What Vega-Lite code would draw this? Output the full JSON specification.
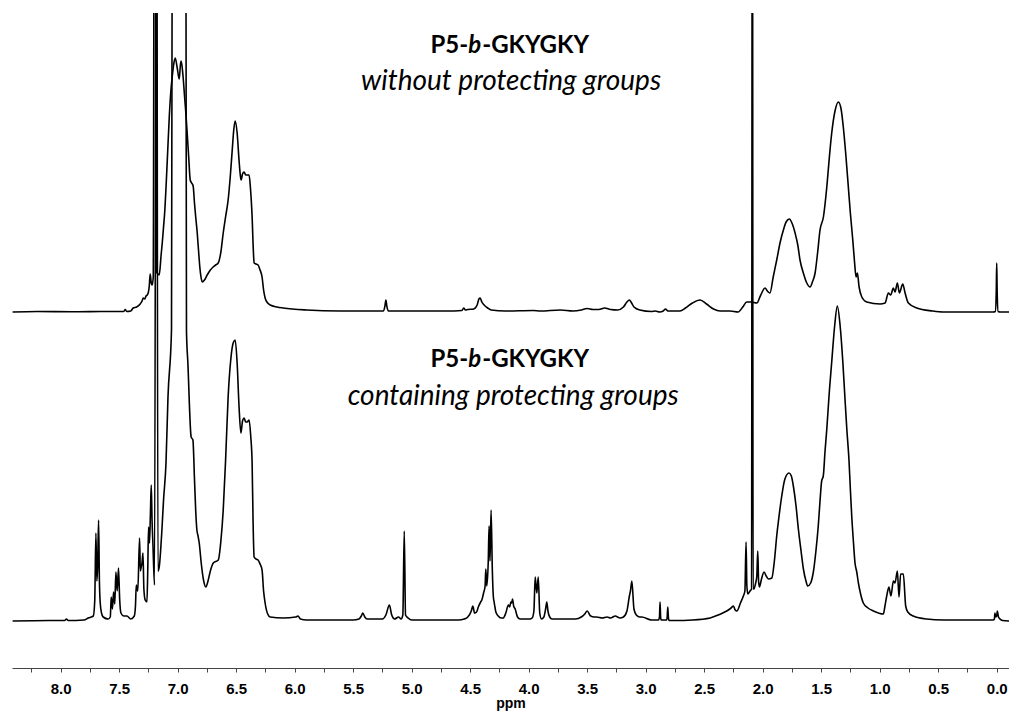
{
  "$schema": "https://vega.github.io/schema/vega-lite/v6.json",
  "width": 997,
  "height": 655,
  "autosize": {"type": "none"},
  "padding": {"left": 12, "top": 13, "right": 0, "bottom": 43},
  "background": "white",
  "config": {"view": {"stroke": null}},
  "datasets": {
    "upper": [
      {"ppm":8.41,"intensity":0},{"ppm":8.2,"intensity":0.5},{"ppm":7.9,"intensity":0.3},{"ppm":7.6,"intensity":0.5},{"ppm":7.46,"intensity":0.5},{"ppm":7.447,"intensity":2.5},{"ppm":7.435,"intensity":0.5},{"ppm":7.4,"intensity":1},{"ppm":7.379,"intensity":4},{"ppm":7.35,"intensity":5},{"ppm":7.32,"intensity":8},{"ppm":7.3,"intensity":12},{"ppm":7.294,"intensity":14},{"ppm":7.28,"intensity":13},{"ppm":7.27,"intensity":16},{"ppm":7.26,"intensity":17},{"ppm":7.251,"intensity":19},{"ppm":7.242,"intensity":26},{"ppm":7.234,"intensity":38},{"ppm":7.225,"intensity":29},{"ppm":7.217,"intensity":27},{"ppm":7.208,"intensity":35},{"ppm":7.193,"intensity":1000},{"ppm":7.18,"intensity":40},{"ppm":7.168,"intensity":38},{"ppm":7.157,"intensity":37},{"ppm":7.14,"intensity":58},{"ppm":7.131,"intensity":69},{"ppm":7.12,"intensity":85},{"ppm":7.11,"intensity":100},{"ppm":7.097,"intensity":129},{"ppm":7.084,"intensity":162},{"ppm":7.071,"intensity":195},{"ppm":7.058,"intensity":220},{"ppm":7.046,"intensity":235},{"ppm":7.033,"intensity":248},{"ppm":7.02,"intensity":254},{"ppm":7.003,"intensity":244},{"ppm":6.986,"intensity":233},{"ppm":6.975,"intensity":248},{"ppm":6.969,"intensity":251},{"ppm":6.955,"intensity":238},{"ppm":6.94,"intensity":215},{"ppm":6.93,"intensity":200},{"ppm":6.918,"intensity":179},{"ppm":6.905,"intensity":155},{"ppm":6.892,"intensity":132},{"ppm":6.88,"intensity":129},{"ppm":6.867,"intensity":126},{"ppm":6.855,"intensity":108},{"ppm":6.845,"intensity":95},{"ppm":6.832,"intensity":79},{"ppm":6.82,"intensity":60},{"ppm":6.81,"intensity":45},{"ppm":6.8,"intensity":35},{"ppm":6.789,"intensity":30},{"ppm":6.77,"intensity":32},{"ppm":6.747,"intensity":37},{"ppm":6.72,"intensity":42},{"ppm":6.696,"intensity":45},{"ppm":6.675,"intensity":47},{"ppm":6.653,"intensity":49},{"ppm":6.63,"intensity":60},{"ppm":6.61,"intensity":79},{"ppm":6.59,"intensity":95},{"ppm":6.568,"intensity":112},{"ppm":6.55,"intensity":135},{"ppm":6.533,"intensity":162},{"ppm":6.52,"intensity":182},{"ppm":6.508,"intensity":191},{"ppm":6.491,"intensity":179},{"ppm":6.475,"intensity":152},{"ppm":6.465,"intensity":138},{"ppm":6.457,"intensity":132},{"ppm":6.445,"intensity":138},{"ppm":6.431,"intensity":140},{"ppm":6.418,"intensity":137},{"ppm":6.406,"intensity":137},{"ppm":6.389,"intensity":137},{"ppm":6.378,"intensity":125},{"ppm":6.363,"intensity":95},{"ppm":6.352,"intensity":60},{"ppm":6.346,"intensity":49},{"ppm":6.33,"intensity":48},{"ppm":6.312,"intensity":47},{"ppm":6.295,"intensity":42},{"ppm":6.278,"intensity":35},{"ppm":6.265,"intensity":22},{"ppm":6.252,"intensity":14},{"ppm":6.23,"intensity":9},{"ppm":6.209,"intensity":7},{"ppm":6.15,"intensity":5},{"ppm":6.098,"intensity":4},{"ppm":5.9,"intensity":2},{"ppm":5.611,"intensity":1},{"ppm":5.3,"intensity":1},{"ppm":5.24,"intensity":1},{"ppm":5.228,"intensity":6},{"ppm":5.22,"intensity":12},{"ppm":5.212,"intensity":6},{"ppm":5.2,"intensity":1},{"ppm":5.0,"intensity":1},{"ppm":4.7,"intensity":1},{"ppm":4.57,"intensity":1.5},{"ppm":4.555,"intensity":4},{"ppm":4.54,"intensity":2},{"ppm":4.52,"intensity":2.5},{"ppm":4.47,"intensity":3},{"ppm":4.44,"intensity":7},{"ppm":4.425,"intensity":13},{"ppm":4.414,"intensity":14},{"ppm":4.4,"intensity":10},{"ppm":4.38,"intensity":7},{"ppm":4.35,"intensity":4},{"ppm":4.32,"intensity":2},{"ppm":4.2,"intensity":1},{"ppm":3.96,"intensity":1.5},{"ppm":3.9,"intensity":1},{"ppm":3.73,"intensity":2},{"ppm":3.62,"intensity":1},{"ppm":3.55,"intensity":2},{"ppm":3.5,"intensity":3.5},{"ppm":3.45,"intensity":2.5},{"ppm":3.4,"intensity":2.5},{"ppm":3.35,"intensity":4},{"ppm":3.3,"intensity":2.5},{"ppm":3.24,"intensity":2},{"ppm":3.19,"intensity":5},{"ppm":3.16,"intensity":10},{"ppm":3.14,"intensity":12},{"ppm":3.12,"intensity":9},{"ppm":3.1,"intensity":5},{"ppm":3.05,"intensity":2},{"ppm":2.95,"intensity":0.5},{"ppm":2.92,"intensity":1},{"ppm":2.88,"intensity":0},{"ppm":2.85,"intensity":1},{"ppm":2.83,"intensity":3},{"ppm":2.81,"intensity":1},{"ppm":2.75,"intensity":1},{"ppm":2.706,"intensity":1},{"ppm":2.66,"intensity":4},{"ppm":2.6,"intensity":9},{"ppm":2.535,"intensity":12},{"ppm":2.48,"intensity":8},{"ppm":2.42,"intensity":3},{"ppm":2.364,"intensity":1},{"ppm":2.3,"intensity":1},{"ppm":2.279,"intensity":1},{"ppm":2.21,"intensity":0},{"ppm":2.17,"intensity":5},{"ppm":2.136,"intensity":10},{"ppm":2.1,"intensity":10},{"ppm":2.05,"intensity":9},{"ppm":2.02,"intensity":16},{"ppm":1.98,"intensity":24},{"ppm":1.96,"intensity":21},{"ppm":1.938,"intensity":19},{"ppm":1.91,"intensity":35},{"ppm":1.88,"intensity":52},{"ppm":1.85,"intensity":70},{"ppm":1.823,"intensity":82},{"ppm":1.8,"intensity":90},{"ppm":1.772,"intensity":93},{"ppm":1.75,"intensity":89},{"ppm":1.723,"intensity":79},{"ppm":1.7,"intensity":67},{"ppm":1.681,"intensity":52},{"ppm":1.65,"intensity":38},{"ppm":1.623,"intensity":29},{"ppm":1.595,"intensity":25},{"ppm":1.575,"intensity":30},{"ppm":1.552,"intensity":39},{"ppm":1.53,"intensity":60},{"ppm":1.51,"intensity":82},{"ppm":1.481,"intensity":95},{"ppm":1.452,"intensity":125},{"ppm":1.43,"intensity":155},{"ppm":1.41,"intensity":179},{"ppm":1.38,"intensity":202},{"ppm":1.353,"intensity":210},{"ppm":1.33,"intensity":203},{"ppm":1.311,"intensity":185},{"ppm":1.29,"intensity":158},{"ppm":1.268,"intensity":125},{"ppm":1.25,"intensity":98},{"ppm":1.23,"intensity":72},{"ppm":1.215,"intensity":50},{"ppm":1.202,"intensity":35},{"ppm":1.191,"intensity":39},{"ppm":1.176,"intensity":25},{"ppm":1.153,"intensity":15},{"ppm":1.111,"intensity":10},{"ppm":0.997,"intensity":8},{"ppm":0.954,"intensity":9},{"ppm":0.926,"intensity":19},{"ppm":0.906,"intensity":17},{"ppm":0.883,"intensity":24},{"ppm":0.869,"intensity":20},{"ppm":0.849,"intensity":29},{"ppm":0.832,"intensity":19},{"ppm":0.803,"intensity":28},{"ppm":0.783,"intensity":19},{"ppm":0.755,"intensity":9},{"ppm":0.683,"intensity":4},{"ppm":0.55,"intensity":1},{"ppm":0.456,"intensity":0},{"ppm":0.2,"intensity":0},{"ppm":0.029,"intensity":0},{"ppm":0.012,"intensity":0.5},{"ppm":0.004,"intensity":20},{"ppm":0.0,"intensity":49},{"ppm":-0.004,"intensity":20},{"ppm":-0.012,"intensity":0.5},{"ppm":-0.03,"intensity":0},{"ppm":-0.105,"intensity":0}
    ],
    "lower": [
      {"ppm":8.41,"intensity":0},{"ppm":8.1,"intensity":0.5},{"ppm":7.965,"intensity":0.5},{"ppm":7.95,"intensity":2},{"ppm":7.935,"intensity":0.5},{"ppm":7.8,"intensity":1},{"ppm":7.763,"intensity":3},{"ppm":7.72,"intensity":5},{"ppm":7.708,"intensity":20},{"ppm":7.698,"intensity":88},{"ppm":7.69,"intensity":40},{"ppm":7.683,"intensity":55},{"ppm":7.675,"intensity":101},{"ppm":7.668,"intensity":40},{"ppm":7.661,"intensity":18},{"ppm":7.65,"intensity":8},{"ppm":7.636,"intensity":4},{"ppm":7.593,"intensity":2},{"ppm":7.575,"intensity":4},{"ppm":7.567,"intensity":24},{"ppm":7.557,"intensity":12},{"ppm":7.547,"intensity":29},{"ppm":7.537,"intensity":17},{"ppm":7.527,"intensity":49},{"ppm":7.516,"intensity":30},{"ppm":7.505,"intensity":53},{"ppm":7.495,"intensity":22},{"ppm":7.484,"intensity":8},{"ppm":7.46,"intensity":5},{"ppm":7.433,"intensity":5},{"ppm":7.4,"intensity":2},{"ppm":7.37,"intensity":5},{"ppm":7.36,"intensity":15},{"ppm":7.353,"intensity":36},{"ppm":7.34,"intensity":30},{"ppm":7.325,"intensity":83},{"ppm":7.318,"intensity":50},{"ppm":7.311,"intensity":54},{"ppm":7.304,"intensity":58},{"ppm":7.296,"intensity":68},{"ppm":7.288,"intensity":32},{"ppm":7.277,"intensity":21},{"ppm":7.262,"intensity":19},{"ppm":7.255,"intensity":50},{"ppm":7.248,"intensity":94},{"ppm":7.24,"intensity":78},{"ppm":7.232,"intensity":108},{"ppm":7.225,"intensity":136},{"ppm":7.218,"intensity":100},{"ppm":7.211,"intensity":78},{"ppm":7.197,"intensity":36},{"ppm":7.18,"intensity":1000},{"ppm":7.168,"intensity":50},{"ppm":7.157,"intensity":54},{"ppm":7.145,"intensity":70},{"ppm":7.134,"intensity":91},{"ppm":7.12,"intensity":121},{"ppm":7.099,"intensity":158},{"ppm":7.082,"intensity":224},{"ppm":7.052,"intensity":291},{"ppm":7.047,"intensity":620},{"ppm":6.99,"intensity":1200},{"ppm":6.928,"intensity":620},{"ppm":6.924,"intensity":290},{"ppm":6.912,"intensity":258},{"ppm":6.884,"intensity":184},{"ppm":6.869,"intensity":181},{"ppm":6.855,"intensity":140},{"ppm":6.845,"intensity":110},{"ppm":6.835,"intensity":91},{"ppm":6.825,"intensity":85},{"ppm":6.815,"intensity":78},{"ppm":6.798,"intensity":58},{"ppm":6.78,"intensity":42},{"ppm":6.758,"intensity":34},{"ppm":6.74,"intensity":40},{"ppm":6.72,"intensity":50},{"ppm":6.695,"intensity":58},{"ppm":6.652,"intensity":61},{"ppm":6.63,"intensity":80},{"ppm":6.61,"intensity":111},{"ppm":6.59,"intensity":160},{"ppm":6.568,"intensity":224},{"ppm":6.545,"intensity":262},{"ppm":6.525,"intensity":278},{"ppm":6.508,"intensity":281},{"ppm":6.491,"intensity":258},{"ppm":6.475,"intensity":215},{"ppm":6.459,"intensity":188},{"ppm":6.445,"intensity":200},{"ppm":6.431,"intensity":203},{"ppm":6.418,"intensity":199},{"ppm":6.406,"intensity":199},{"ppm":6.389,"intensity":201},{"ppm":6.375,"intensity":185},{"ppm":6.363,"intensity":158},{"ppm":6.355,"intensity":100},{"ppm":6.346,"intensity":64},{"ppm":6.33,"intensity":62},{"ppm":6.312,"intensity":61},{"ppm":6.295,"intensity":57},{"ppm":6.278,"intensity":51},{"ppm":6.265,"intensity":30},{"ppm":6.252,"intensity":18},{"ppm":6.23,"intensity":7},{"ppm":6.209,"intensity":4},{"ppm":6.098,"intensity":3},{"ppm":5.99,"intensity":4},{"ppm":5.97,"intensity":5},{"ppm":5.95,"intensity":2},{"ppm":5.9,"intensity":1},{"ppm":5.5,"intensity":1},{"ppm":5.45,"intensity":2},{"ppm":5.43,"intensity":5},{"ppm":5.417,"intensity":8},{"ppm":5.4,"intensity":4},{"ppm":5.38,"intensity":2},{"ppm":5.25,"intensity":2},{"ppm":5.22,"intensity":6},{"ppm":5.19,"intensity":16},{"ppm":5.17,"intensity":6},{"ppm":5.145,"intensity":2},{"ppm":5.112,"intensity":4},{"ppm":5.09,"intensity":2},{"ppm":5.075,"intensity":6},{"ppm":5.063,"intensity":90},{"ppm":5.052,"intensity":6},{"ppm":5.03,"intensity":3},{"ppm":5.0,"intensity":1},{"ppm":4.6,"intensity":1},{"ppm":4.55,"intensity":2},{"ppm":4.52,"intensity":4},{"ppm":4.49,"intensity":10},{"ppm":4.477,"intensity":15},{"ppm":4.462,"intensity":8},{"ppm":4.445,"intensity":9},{"ppm":4.43,"intensity":14},{"ppm":4.41,"intensity":19},{"ppm":4.4,"intensity":21},{"ppm":4.385,"intensity":28},{"ppm":4.372,"intensity":35},{"ppm":4.366,"intensity":52},{"ppm":4.358,"intensity":35},{"ppm":4.345,"intensity":60},{"ppm":4.338,"intensity":95},{"ppm":4.33,"intensity":60},{"ppm":4.321,"intensity":111},{"ppm":4.31,"intensity":50},{"ppm":4.302,"intensity":25},{"ppm":4.295,"intensity":19},{"ppm":4.288,"intensity":14},{"ppm":4.28,"intensity":9},{"ppm":4.26,"intensity":5},{"ppm":4.235,"intensity":3},{"ppm":4.218,"intensity":3},{"ppm":4.195,"intensity":8},{"ppm":4.173,"intensity":16},{"ppm":4.162,"intensity":14},{"ppm":4.152,"intensity":19},{"ppm":4.145,"intensity":18},{"ppm":4.138,"intensity":22},{"ppm":4.128,"intensity":15},{"ppm":4.115,"intensity":12},{"ppm":4.095,"intensity":4},{"ppm":4.073,"intensity":2},{"ppm":3.99,"intensity":2},{"ppm":3.97,"intensity":3},{"ppm":3.955,"intensity":10},{"ppm":3.944,"intensity":44},{"ppm":3.93,"intensity":28},{"ppm":3.918,"intensity":44},{"ppm":3.905,"intensity":8},{"ppm":3.89,"intensity":2},{"ppm":3.87,"intensity":4},{"ppm":3.855,"intensity":12},{"ppm":3.845,"intensity":19},{"ppm":3.835,"intensity":10},{"ppm":3.82,"intensity":4},{"ppm":3.8,"intensity":2},{"ppm":3.7,"intensity":2},{"ppm":3.6,"intensity":2},{"ppm":3.55,"intensity":4},{"ppm":3.52,"intensity":7},{"ppm":3.5,"intensity":10},{"ppm":3.47,"intensity":5},{"ppm":3.44,"intensity":4},{"ppm":3.42,"intensity":4},{"ppm":3.37,"intensity":3},{"ppm":3.33,"intensity":4},{"ppm":3.3,"intensity":3},{"ppm":3.26,"intensity":5},{"ppm":3.22,"intensity":3},{"ppm":3.19,"intensity":4},{"ppm":3.16,"intensity":10},{"ppm":3.139,"intensity":25},{"ppm":3.13,"intensity":30},{"ppm":3.118,"intensity":40},{"ppm":3.1,"intensity":12},{"ppm":3.08,"intensity":6},{"ppm":3.05,"intensity":4},{"ppm":3.033,"intensity":4},{"ppm":2.95,"intensity":1},{"ppm":2.89,"intensity":1},{"ppm":2.882,"intensity":4},{"ppm":2.877,"intensity":19},{"ppm":2.872,"intensity":4},{"ppm":2.868,"intensity":1},{"ppm":2.82,"intensity":1},{"ppm":2.816,"intensity":4},{"ppm":2.811,"intensity":14},{"ppm":2.806,"intensity":4},{"ppm":2.8,"intensity":0.5},{"ppm":2.75,"intensity":0.5},{"ppm":2.6,"intensity":1},{"ppm":2.449,"intensity":3},{"ppm":2.38,"intensity":6},{"ppm":2.307,"intensity":10},{"ppm":2.27,"intensity":13},{"ppm":2.25,"intensity":15},{"ppm":2.235,"intensity":11},{"ppm":2.221,"intensity":10},{"ppm":2.19,"intensity":18},{"ppm":2.165,"intensity":25},{"ppm":2.152,"intensity":30},{"ppm":2.142,"intensity":79},{"ppm":2.135,"intensity":35},{"ppm":2.127,"intensity":27},{"ppm":2.108,"intensity":30},{"ppm":2.095,"intensity":32},{"ppm":2.088,"intensity":1000},{"ppm":2.082,"intensity":32},{"ppm":2.075,"intensity":32},{"ppm":2.06,"intensity":38},{"ppm":2.05,"intensity":45},{"ppm":2.042,"intensity":70},{"ppm":2.035,"intensity":40},{"ppm":2.028,"intensity":34},{"ppm":2.01,"intensity":42},{"ppm":1.988,"intensity":49},{"ppm":1.97,"intensity":45},{"ppm":1.951,"intensity":42},{"ppm":1.922,"intensity":43},{"ppm":1.9,"intensity":60},{"ppm":1.88,"intensity":85},{"ppm":1.86,"intensity":105},{"ppm":1.837,"intensity":125},{"ppm":1.81,"intensity":142},{"ppm":1.775,"intensity":148},{"ppm":1.755,"intensity":145},{"ppm":1.738,"intensity":135},{"ppm":1.715,"intensity":115},{"ppm":1.695,"intensity":92},{"ppm":1.672,"intensity":70},{"ppm":1.652,"intensity":52},{"ppm":1.63,"intensity":40},{"ppm":1.615,"intensity":35},{"ppm":1.59,"intensity":38},{"ppm":1.567,"intensity":49},{"ppm":1.545,"intensity":70},{"ppm":1.525,"intensity":95},{"ppm":1.51,"intensity":120},{"ppm":1.496,"intensity":140},{"ppm":1.482,"intensity":145},{"ppm":1.467,"intensity":170},{"ppm":1.452,"intensity":192},{"ppm":1.43,"intensity":230},{"ppm":1.41,"intensity":259},{"ppm":1.385,"intensity":295},{"ppm":1.362,"intensity":315},{"ppm":1.338,"intensity":295},{"ppm":1.315,"intensity":259},{"ppm":1.298,"intensity":225},{"ppm":1.281,"intensity":192},{"ppm":1.262,"intensity":160},{"ppm":1.25,"intensity":130},{"ppm":1.239,"intensity":105},{"ppm":1.225,"intensity":80},{"ppm":1.211,"intensity":58},{"ppm":1.196,"intensity":49},{"ppm":1.182,"intensity":38},{"ppm":1.165,"intensity":28},{"ppm":1.14,"intensity":18},{"ppm":1.1,"intensity":13},{"ppm":1.054,"intensity":10},{"ppm":0.969,"intensity":7},{"ppm":0.955,"intensity":15},{"ppm":0.94,"intensity":25},{"ppm":0.921,"intensity":34},{"ppm":0.904,"intensity":25},{"ppm":0.883,"intensity":40},{"ppm":0.869,"intensity":38},{"ppm":0.849,"intensity":50},{"ppm":0.835,"intensity":24},{"ppm":0.821,"intensity":47},{"ppm":0.798,"intensity":47},{"ppm":0.778,"intensity":15},{"ppm":0.76,"intensity":9},{"ppm":0.713,"intensity":5},{"ppm":0.6,"intensity":2},{"ppm":0.456,"intensity":1},{"ppm":0.1,"intensity":1},{"ppm":0.03,"intensity":1},{"ppm":0.02,"intensity":2},{"ppm":0.015,"intensity":8},{"ppm":0.008,"intensity":4},{"ppm":0.0,"intensity":5},{"ppm":-0.005,"intensity":10},{"ppm":-0.015,"intensity":4},{"ppm":-0.028,"intensity":2},{"ppm":-0.05,"intensity":0.5},{"ppm":-0.105,"intensity":0}
    ]
  },
  "encoding": {
    "x": {
      "field": "ppm",
      "type": "quantitative",
      "scale": {"domain": [8.415, -0.105], "nice": false, "zero": false},
      "axis": {
        "title": "ppm",
        "values": [8.25,8.0,7.75,7.5,7.25,7.0,6.75,6.5,6.25,6.0,5.75,5.5,5.25,5.0,4.75,4.5,4.25,4.0,3.75,3.5,3.25,3.0,2.75,2.5,2.25,2.0,1.75,1.5,1.25,1.0,0.75,0.5,0.25,0.0],
        "labelExpr": "datum.value % 0.5 === 0 ? format(datum.value, '.1f') : ''",
        "grid": false,
        "domainColor": "#444444",
        "domainWidth": 1,
        "tickColor": "#444444",
        "tickWidth": 1,
        "tickSize": 4,
        "labelFont": "Liberation Sans",
        "labelFontSize": 15,
        "labelFontWeight": "bold",
        "labelColor": "#000000",
        "labelPadding": 9,
        "labelFlush": false,
        "labelOverlap": false,
        "titleFont": "Liberation Sans",
        "titleFontSize": 14,
        "titleFontWeight": "bold",
        "titleColor": "#000000",
        "titlePadding": 0
      }
    }
  },
  "layer": [
    {
      "encoding": {
        "y": {"field": "intensity", "type": "quantitative", "scale": {"domain": [-356, 299], "nice": false, "zero": false}, "axis": null}
      },
      "layer": [
        {
          "data": {"name": "upper"},
          "mark": {"type": "line", "color": "#000000", "strokeWidth": 1.6, "interpolate": "monotone", "clip": true}
        },
        {
          "data": {"values": [{"ppm": 4.5165, "intensity": 259, "label": "P5-"}]},
          "mark": {"type": "text", "font": "Lato", "fontSize": 24, "fontWeight": "bold", "align": "right", "baseline": "alphabetic", "color": "#000000"},
          "encoding": {"text": {"field": "label"}}
        },
        {
          "data": {"values": [{"ppm": 4.5165, "intensity": 259, "label": "b"}]},
          "mark": {"type": "text", "font": "Lato", "fontSize": 24, "fontWeight": "bold", "fontStyle": "italic", "align": "left", "baseline": "alphabetic", "color": "#000000"},
          "encoding": {"text": {"field": "label"}}
        },
        {
          "data": {"values": [{"ppm": 4.397, "intensity": 259, "label": "-GKYGKY"}]},
          "mark": {"type": "text", "font": "Lato", "fontSize": 24, "fontWeight": "bold", "align": "left", "baseline": "alphabetic", "color": "#000000"},
          "encoding": {"text": {"field": "label"}}
        },
        {
          "data": {"values": [{"ppm": 4.15, "intensity": 222, "label": "without protecting groups"}]},
          "mark": {"type": "text", "font": "Lato", "fontSize": 28, "fontStyle": "italic", "align": "center", "baseline": "alphabetic", "color": "#000000"},
          "encoding": {"text": {"field": "label"}}
        }
      ]
    },
    {
      "encoding": {
        "y": {"field": "intensity", "type": "quantitative", "scale": {"domain": [-47, 608], "nice": false, "zero": false}, "axis": null}
      },
      "layer": [
        {
          "data": {"name": "lower"},
          "mark": {"type": "line", "color": "#000000", "strokeWidth": 1.6, "interpolate": "monotone", "clip": true}
        },
        {
          "data": {"values": [{"ppm": 4.5165, "intensity": 254, "label": "P5-"}]},
          "mark": {"type": "text", "font": "Lato", "fontSize": 24, "fontWeight": "bold", "align": "right", "baseline": "alphabetic", "color": "#000000"},
          "encoding": {"text": {"field": "label"}}
        },
        {
          "data": {"values": [{"ppm": 4.5165, "intensity": 254, "label": "b"}]},
          "mark": {"type": "text", "font": "Lato", "fontSize": 24, "fontWeight": "bold", "fontStyle": "italic", "align": "left", "baseline": "alphabetic", "color": "#000000"},
          "encoding": {"text": {"field": "label"}}
        },
        {
          "data": {"values": [{"ppm": 4.397, "intensity": 254, "label": "-GKYGKY"}]},
          "mark": {"type": "text", "font": "Lato", "fontSize": 24, "fontWeight": "bold", "align": "left", "baseline": "alphabetic", "color": "#000000"},
          "encoding": {"text": {"field": "label"}}
        },
        {
          "data": {"values": [{"ppm": 4.132, "intensity": 216, "label": "containing protecting groups"}]},
          "mark": {"type": "text", "font": "Lato", "fontSize": 28, "fontStyle": "italic", "align": "center", "baseline": "alphabetic", "color": "#000000"},
          "encoding": {"text": {"field": "label"}}
        }
      ]
    }
  ],
  "resolve": {"scale": {"y": "independent"}}
}
